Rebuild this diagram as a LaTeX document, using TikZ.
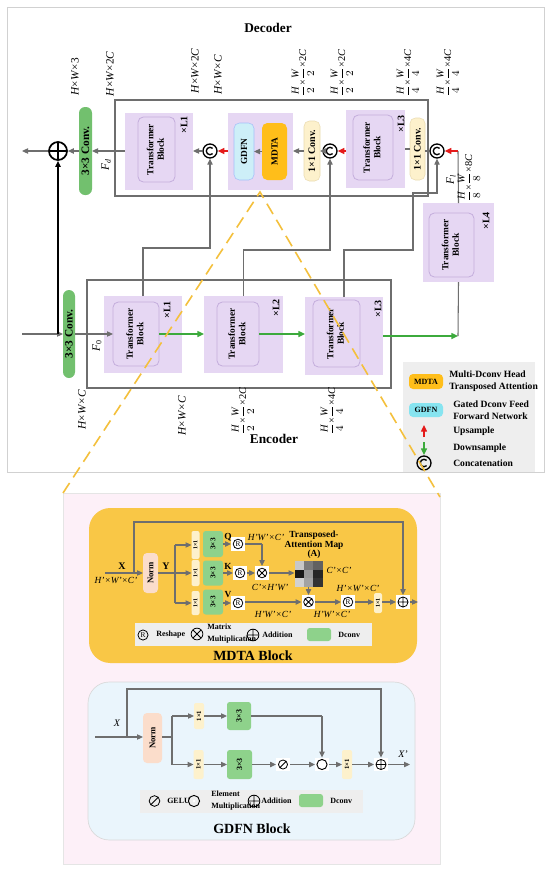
\documentclass[tikz,border=0pt]{standalone}
\usepackage{fontspec}
\setmainfont{Liberation Serif}
\usetikzlibrary{arrows.meta}
\definecolor{purp}{HTML}{E6D7F3}
\definecolor{purpd}{HTML}{C4AEDC}
\definecolor{gconv}{HTML}{72C06E}
\definecolor{cyanb}{HTML}{CDEFF8}
\definecolor{cyanl}{HTML}{86E4F0}
\definecolor{orng}{HTML}{FFBE1A}
\definecolor{cream}{HTML}{FDF1CC}
\definecolor{creamd}{HTML}{EADBB0}
\definecolor{mdtabg}{HTML}{F9C746}
\definecolor{pinkbg}{HTML}{FDF0F8}
\definecolor{gdfnbg}{HTML}{EAF5FC}
\definecolor{normc}{HTML}{FBDDCB}
\definecolor{dconv}{HTML}{8ED28B}
\definecolor{redar}{HTML}{E41A1A}
\definecolor{grnar}{HTML}{3CAA3C}
\definecolor{lnc}{HTML}{6E6E6E}
\definecolor{legbg}{HTML}{EEEEEE}
\definecolor{ylwdash}{HTML}{F4C03C}
\newcommand\fsz[1]{\fontsize{#1}{#1}\selectfont}
\newcommand\vt[1]{\rotatebox{90}{\begin{tabular}{@{}c@{}}#1\end{tabular}}}
\newcommand\rt[1]{\rotatebox{90}{#1}}
\newcommand\fr[2]{$\displaystyle\frac{\textit{#1}}{#2}$}
\begin{document}
\begin{tikzpicture}[x=0.75pt,y=-0.75pt,
 wh/.style 2 args={minimum width=#1*0.75pt,minimum height=#2*0.75pt,inner sep=0pt,outer sep=0pt},
 ln/.style={draw=lnc,line width=0.8pt},
 arr/.style={ln,-{Triangle[length=4.5pt,width=4pt]}},
 rarr/.style={draw=redar,line width=1pt,-{Triangle[length=5pt,width=4.5pt]}},
 garr/.style={draw=grnar,line width=1pt,-{Triangle[length=5pt,width=4.5pt]}},
 pblock/.style={fill=purp},
 pinner/.style={fill=purp,draw=purpd,line width=0.6pt,rounded corners=4pt,font=\bfseries\fontsize{7}{8}\selectfont},
 conv3/.style={fill=gconv,rounded corners=4.5pt,font=\bfseries\fsz{8.5}},
 conv1/.style={fill=cream,draw=creamd,line width=0.4pt,rounded corners=4pt,font=\bfseries\fsz{7.5}},
 mult/.style={font=\bfseries\fsz{7.5},inner sep=0pt},
 dimlab/.style={font=\fsz{8.5},inner sep=0pt},
 fraclab/.style={font=\fsz{7.8},inner sep=0pt},
 ttl/.style={font=\bfseries\fsz{10}},
 catc/.style={circle,draw=black,line width=1pt,minimum size=10.5pt,inner sep=0pt,
   path picture={\draw[line width=1pt] ([shift={(45:2.8pt)}]path picture bounding box.center) arc[start angle=45,end angle=315,radius=2.8pt];}},
 oplusbig/.style={circle,draw=black,line width=1.3pt,minimum size=13.5pt,inner sep=0pt,
   path picture={\draw[line width=1.3pt] (path picture bounding box.north) -- (path picture bounding box.south) (path picture bounding box.west) -- (path picture bounding box.east);}},
 sq/.style={rectangle,fill=white,minimum width=10pt,minimum height=10pt,inner sep=0pt},
 sotimes/.style={sq,path picture={\coordinate (pc) at (path picture bounding box.center);
   \draw[line width=0.6pt] (pc) circle[radius=#1] (pc) +(45:#1) -- +(225:#1) +(135:#1) -- +(-45:#1);}},
 sotimes/.default=3.6pt,
 soplus/.style={sq,path picture={\coordinate (pc) at (path picture bounding box.center);
   \draw[line width=0.6pt] (pc) circle[radius=#1] (pc) +(0:#1) -- +(180:#1) +(90:#1) -- +(270:#1);}},
 soplus/.default=3.8pt,
 sodot/.style={sq,path picture={\coordinate (pc) at (path picture bounding box.center);
   \draw[line width=0.7pt] (pc) circle[radius=#1]; \fill (pc) circle[radius=1.1pt];}},
 sodot/.default=3.8pt,
 sgelu/.style={sq,path picture={\coordinate (pc) at (path picture bounding box.center);
   \draw[line width=0.6pt] (pc) circle[radius=#1] (pc) +(45:#1) -- +(225:#1);}},
 sgelu/.default=3.4pt,
 sresh/.style={sq,font=\fsz{5.5},path picture={\coordinate (pc) at (path picture bounding box.center);
   \draw[line width=0.6pt] (pc) circle[radius=#1];}},
 sresh/.default=3.6pt,
 lsym/.style={fill=none,minimum size=11pt},
 c1/.style={fill=cream,rounded corners=1.5pt,font=\bfseries\fsz{4.5}},
 c3/.style={fill=dconv,rounded corners=2pt,font=\bfseries\fsz{5.5}},
 normb/.style={fill=normc,rounded corners=3pt,font=\bfseries\fsz{6.5}},
 ilab/.style={font=\itshape\fsz{7},inner sep=0pt},
 blab/.style={font=\bfseries\fsz{7},inner sep=0pt},
 leg/.style={font=\bfseries\fontsize{6}{9}\selectfont,inner sep=0pt,anchor=west,align=left},
 tleg/.style={font=\bfseries\fontsize{7.2}{8.6}\selectfont,inner sep=0pt,anchor=west,align=left}
]
\useasboundingbox[fill=white] (0,0) rectangle (550,872);
% ---------------- top panel
\node[draw=black!18,fill=white,line width=0.6pt,wh={537}{465}] (topframe) at (275.5,239.5) {};
\node[ttl] (dectitle) at (268,28) {Decoder};
\node[draw=lnc,line width=0.8pt,wh={313}{96}] (decframe) at (271.5,148) {};
% decoder blocks
\node[pblock,wh={68}{77}] (dL1) at (159,151) {};
\node[pinner,wh={37}{65}] (dL1in) at (156.5,149.5) {\vt{Transformer\\Block}};
\node[mult] (dL1x) at (184,125) {\rt{×L1}};
\node[catc] (cat1) at (210,151) {};
\node[pblock,wh={65}{77}] (dMG) at (260.5,151) {};
\node[fill=cyanb,draw=cyanb!80!blue,line width=0.4pt,rounded corners=4pt,wh={20}{57},font=\bfseries\fsz{7}] (gdfn) at (244,151.5) {\rt{GDFN}};
\node[fill=orng,rounded corners=4pt,wh={25}{57},font=\bfseries\fsz{7}] (mdta) at (274.5,151.5) {\rt{MDTA}};
\node[conv1,wh={16}{60}] (c1a) at (312,151) {\rt{1×1 Conv.}};
\node[catc] (cat2) at (330,151) {};
\node[pblock,wh={59}{78}] (dL3) at (375.5,149) {};
\node[pinner,wh={40}{65}] (dL3in) at (373,147.5) {\vt{Transformer\\Block}};
\node[mult] (dL3x) at (401,124) {\rt{×L3}};
\node[conv1,wh={15}{62}] (c1b) at (417.5,149) {\rt{1×1 Conv.}};
\node[catc] (cat3) at (437,151) {};
\node[pblock,wh={71}{79}] (L4) at (458.5,242.5) {};
\node[pinner,wh={45}{64}] (L4in) at (451.5,245) {\vt{Transformer\\Block}};
\node[mult] (L4x) at (486,221) {\rt{×L4}};
\node[conv3,wh={13}{88}] (dc3) at (85.5,151) {\rt{3×3 Conv.}};
\node[oplusbig] (plus1) at (58,151) {};
% decoder connectors
\coordinate (outL) at (22,151);
\draw[arr] (cat1.west) -- (cat1.west -| dL1.east);
\draw[arr] (dL1.west) -- (dL1.west -| dc3.east);
\draw[arr] (dc3.west) -- (plus1.east);
\draw[arr] (plus1.west) -- (outL);
\draw[rarr] (dMG.west) -- (cat1.east);
\draw[arr] (mdta.west) -- (mdta.west -| gdfn.east);
\draw[arr] (c1a.west) -- (c1a.west -| dMG.east);
\draw[arr] (cat2.west) -- (cat2.west -| c1a.east);
\draw[rarr] (cat2.east -| dL3.west) -- (cat2.east);
\draw[ln] (c1b.west) -- (c1b.west -| dL3.east);
\draw[ln] (cat3.west) -- (cat3.west -| c1b.east);
\coordinate (l4top) at (458,151);
\draw[ln] (L4.north) -- (l4top);
\draw[rarr] (l4top) -- (cat3.east);
% decoder labels
\node[dimlab] (lb1) at (75,77) {\rt{\textit{H}×\textit{W}×3}};
\node[dimlab] (lb2) at (110,74) {\rt{\textit{H}×\textit{W}×2\textit{C}}};
\node[dimlab] (lb3) at (195,71) {\rt{\textit{H}×\textit{W}×2\textit{C}}};
\node[dimlab] (lb4) at (218,75) {\rt{\textit{H}×\textit{W}×\textit{C}}};
\node[fraclab] (lb5) at (303,73) {\rt{\fr{H}{2}×\fr{W}{2}×2\textit{C}}};
\node[fraclab] (lb6) at (342,73) {\rt{\fr{H}{2}×\fr{W}{2}×2\textit{C}}};
\node[fraclab] (lb7) at (408,73) {\rt{\fr{H}{4}×\fr{W}{4}×4\textit{C}}};
\node[fraclab] (lb8) at (448,73) {\rt{\fr{H}{4}×\fr{W}{4}×4\textit{C}}};
\node[fraclab] (lb9) at (469,178) {\rt{\fr{H}{8}×\fr{W}{8}×8\textit{C}}};
\node[dimlab] (lFd) at (106,165) {\rt{\textit{F}\textsubscript{\textit{d}}}};
\node[dimlab] (lFl) at (451,180) {\rt{\textit{F}\textsubscript{\textit{l}}}};
% ---------------- encoder
\node[draw=lnc,line width=0.8pt,wh={304}{108}] (encframe) at (239,334) {};
\node[conv3,wh={12}{88}] (ec3) at (69,334) {\rt{3×3 Conv.}};
\node[pblock,wh={78}{77}] (eL1) at (143,334.5) {};
\node[pinner,wh={46}{64}] (eL1in) at (136,334) {\vt{Transformer\\Block}};
\node[mult] (eL1x) at (167,310) {\rt{×L1}};
\node[pblock,wh={79}{77}] (eL2) at (243.5,334.5) {};
\node[pinner,wh={42}{64}] (eL2in) at (238,334) {\vt{Transformer\\Block}};
\node[mult] (eL2x) at (276,308) {\rt{×L2}};
\node[pblock,wh={78}{78}] (eL3) at (344,336) {};
\node[pinner,wh={47}{67}] (eL3in) at (336.5,333.5) {\vt{Transformer\\Block}};
\node[mult] (eL3x) at (378,309) {\rt{×L3}};
\coordinate (inL) at (22,334);
\coordinate (inJ) at (58,334);
\coordinate (l4bot) at (458,336);
\draw[arr] (inL) -- (ec3.west);
\draw[arr,draw=black,line width=0.9pt] (inJ) -- (plus1.south);
\draw[arr] (ec3.east) -- (ec3.east -| eL1in.west);
\draw[garr] (eL1in.east) -- (eL1in.east -| eL2.west);
\draw[garr] (eL2in.east) -- (eL2in.east -| eL3.west);
\draw[garr] (eL3.east) -- (l4bot);
\draw[ln] (L4.south) -- (l4bot);
\draw[arr] (eL1.north) -- ++(0,-48) -| (cat1.south);
\draw[arr] (eL2.north) -- ++(0,-46) -| (cat2.south);
\draw[arr] (eL3.north) -- ++(0,-47) -| (413,193) -| (cat3.south);
% encoder labels
\node[dimlab] (le1) at (82,410) {\rt{\textit{H}×\textit{W}×\textit{C}}};
\node[dimlab] (le2) at (182,416) {\rt{\textit{H}×\textit{W}×\textit{C}}};
\node[fraclab] (le3) at (243,411) {\rt{\fr{H}{2}×\fr{W}{2}×2\textit{C}}};
\node[fraclab] (le4) at (332,411) {\rt{\fr{H}{4}×\fr{W}{4}×4\textit{C}}};
\node[dimlab] (lF0) at (97,346) {\rt{\textit{F}\textsubscript{0}}};
\node[ttl] (enctitle) at (274,439) {Encoder};
% legend
\node[fill=legbg,wh={132}{110}] (legbox) at (469,417) {};
\node[fill=orng,rounded corners=3pt,wh={34}{15},font=\bfseries\fsz{6}] (lgM) at (426,381.5) {MDTA};
\node[tleg] (lgMt) at (449,381) {Multi-Dconv Head\\Transposed Attention};
\node[fill=cyanl,rounded corners=3pt,wh={34}{14},font=\bfseries\fsz{6}] (lgG) at (426,410) {GDFN};
\node[tleg] (lgGt) at (453,410) {Gated Dconv Feed\\Forward Network};
\coordinate (upa) at (424,437);
\coordinate (upb) at (424,425);
\draw[rarr] (upa) -- (upb);
\node[tleg] (lgU) at (453,431) {Upsample};
\coordinate (dna) at (424,442);
\coordinate (dnb) at (424,455);
\draw[garr] (dna) -- (dnb);
\node[tleg] (lgD) at (453,448) {Downsample};
\node[catc] (lgC) at (424,463) {};
\node[tleg] (lgCt) at (453,463) {Concatenation};
% ---------------- lower panel
\node[fill=pinkbg,draw=black!10,wh={377}{371}] (pink) at (251.5,678.5) {};
% MDTA block
\node[fill=mdtabg,rounded corners=16pt,wh={328}{155}] (mdtabg) at (253,585.5) {};
\coordinate (mxin) at (105,573);
\coordinate (mxsp) at (134,573);
\node[normb,wh={15}{40}] (norm1) at (150.5,573) {\rt{Norm}};
\node[c1,wh={8}{28}] (q1) at (195.5,545) {\rt{1×1}};
\node[c1,wh={8}{26}] (k1) at (195.5,573) {\rt{1×1}};
\node[c1,wh={8}{24}] (v1) at (195.5,603) {\rt{1×1}};
\node[c3,wh={20}{26}] (q3) at (213,544) {\rt{3×3}};
\node[c3,wh={20}{25}] (k3) at (213,573) {\rt{3×3}};
\node[c3,wh={20}{25}] (v3) at (213,602) {\rt{3×3}};
\node[sresh] (rq) at (238,544) {R};
\node[sresh] (rk) at (240,573) {R};
\node[sresh] (rv) at (238,603) {R};
\node[sotimes] (mx1) at (262,573) {};
\node[wh={28}{26}] (amap) at (308.5,574) {};
\foreach \r/\c/\g in {0/0/22,0/1/52,0/2/62,1/0/90,1/1/40,1/2/85,2/0/18,2/1/36,2/2/80}
  \fill[black!\g] ({294.5+\c*9.333},{561+\r*8.667}) rectangle ++(9.333,8.667);
\node[sotimes] (mx2) at (308.5,602) {};
\node[sresh] (r3) at (348,602) {R};
\node[c1,wh={8}{20}] (o1) at (378,603) {\rt{1×1}};
\node[soplus] (plus2) at (403,602) {};
\coordinate (mxout) at (418,602);
\draw[arr] (mxin) -- (norm1.west);
\draw[arr] (mxsp) -- (134,522) -| (plus2.north);
\draw[ln] (norm1.east) -- (175,573);
\draw[ln] (175,545) -- (175,603);
\draw[arr] (175,545) -- (q1.west);
\draw[arr] (175,573) -- (k1.west);
\draw[arr] (175,603) -- (v1.west);
\draw[arr] (q3.east) -- (rq.west);
\draw[arr] (k3.east) -- (rk.west);
\draw[arr] (v3.east |- rv.west) -- (rv.west);
\draw[ln] (rq.east) -- (262,544);
\draw[arr] (262,544) -- (mx1.north);
\draw[arr] (rk.east) -- (mx1.west);
\draw[arr] (mx1.east) -- (mx1.east -| amap.west);
\draw[arr] (amap.south) -- (mx2.north);
\draw[arr] (rv.east |- mx2.west) -- (mx2.west);
\draw[arr] (mx2.east) -- (r3.west);
\draw[arr] (r3.east) -- (r3.east -| o1.west);
\draw[arr] (o1.east |- plus2.west) -- (plus2.west);
\draw[arr] (plus2.east) -- (mxout);
\node[font=\bfseries\fsz{7.5}] (tX) at (122,566) {X};
\node[ilab] (tHWC) at (116,580) {\textit{H}'×\textit{W}'×\textit{C}'};
\node[font=\bfseries\fsz{7.5}] (tY) at (166,566) {Y};
\node[blab] (tQ) at (228,537) {Q};
\node[blab] (tK) at (228,566) {K};
\node[blab] (tV) at (228,595) {V};
\node[ilab] (tq) at (266,537) {\textit{H}'\textit{W}'×\textit{C}'};
\node[ilab] (tk) at (270,587) {\textit{C}'×\textit{H}'\textit{W}'};
\node[blab,align=center] (tA) at (314,545) {Transposed-\\Attention Map\\(A)};
\node[ilab] (tcc) at (339,570) {\textit{C}'×\textit{C}'};
\node[ilab] (thwc) at (358,588) {\textit{H}'×\textit{W}'×\textit{C}'};
\node[ilab] (tv1) at (273,614) {\textit{H}'\textit{W}'×\textit{C}'};
\node[ilab] (tv2) at (332,614) {\textit{H}'\textit{W}'×\textit{C}'};
\node[fill=legbg,wh={237}{23}] (mleg) at (253.5,634.5) {};
\node[sresh=3.8pt,lsym] (mlR) at (143,635) {R};
\node[leg] (mlRt) at (156,635) {Reshape};
\node[sotimes=4.4pt,lsym] (mlX) at (197,634) {};
\node[leg] (mlXt) at (207,634) {Matrix\\Multiplication};
\node[soplus=4.4pt,lsym] (mlP) at (253,635) {};
\node[leg] (mlPt) at (262,635) {Addition};
\node[fill=dconv,rounded corners=2pt,wh={24}{13}] (mlG) at (319,634.5) {};
\node[leg] (mlGt) at (338,635) {Dconv};
\node[font=\bfseries\fsz{10.5}] (mdtatitle) at (253,656) {MDTA Block};
% GDFN block
\node[fill=gdfnbg,draw=black!15,line width=0.5pt,rounded corners=16pt,wh={327}{158}] (gdfnbg) at (251.5,761) {};
\coordinate (gxin) at (95,737);
\coordinate (gxsp) at (127,737);
\node[normb,wh={19}{50}] (norm2) at (152.5,738) {\rt{Norm}};
\node[c1,wh={10}{26},font=\bfseries\fsz{5}] (g1a) at (199,716) {\rt{1×1}};
\node[c3,wh={24}{28},font=\bfseries\fsz{6}] (g3a) at (239,716) {\rt{3×3}};
\node[c1,wh={10}{29},font=\bfseries\fsz{5}] (g1b) at (198.5,764.5) {\rt{1×1}};
\node[c3,wh={25}{29},font=\bfseries\fsz{6}] (g3b) at (239.5,764.5) {\rt{3×3}};
\node[sgelu] (gelu) at (283,764.5) {};
\node[sodot] (odot) at (322,764.5) {};
\node[c1,wh={10}{29},font=\bfseries\fsz{5}] (g1c) at (347,764.5) {\rt{1×1}};
\node[soplus] (plus3) at (381,764.5) {};
\coordinate (gout) at (410,764.5);
\draw[arr] (gxin) -- (gxin -| norm2.west);
\draw[arr] (gxsp) -- (127,689) -| (plus3.north);
\draw[ln] (norm2.east |- gxin) -- (172,737);
\draw[ln] (172,716) -- (172,764.5);
\draw[arr] (172,716) -- (g1a.west);
\draw[arr] (172,764.5) -- (g1b.west);
\draw[arr] (g1a.east) -- (g3a.west);
\draw[arr] (g1b.east) -- (g3b.west);
\draw[ln] (g3a.east) -- (322,716);
\draw[arr] (322,716) -- (odot.north);
\draw[arr] (g3b.east) -- (gelu.west);
\draw[arr] (gelu.east) -- (odot.west);
\draw[arr] (odot.east) -- (g1c.west);
\draw[arr] (g1c.east) -- (plus3.west);
\draw[arr] (plus3.east) -- (gout);
\node[font=\itshape\fsz{7.5}] (gX) at (117,723) {X};
\node[font=\itshape\fsz{7.5}] (gX2) at (403,754) {X'};
\node[fill=legbg,wh={223}{23}] (gleg) at (251.5,801.5) {};
\node[sgelu=4pt,lsym] (glE) at (154.5,801) {};
\node[leg] (glEt) at (167,801) {GELU};
\node[sodot=4.2pt,lsym] (glO) at (194,801) {};
\node[leg] (glOt) at (211,801) {Element\\Multiplication};
\node[soplus=4.4pt,lsym] (glP) at (254,801) {};
\node[leg] (glPt) at (261,801) {Addition};
\node[fill=dconv,rounded corners=2pt,wh={24}{13}] (glG) at (311,800.5) {};
\node[leg] (glGt) at (330,801) {Dconv};
\node[font=\bfseries\fsz{10.5}] (gdfntitle) at (252,829) {GDFN Block};
% dashed zoom lines
\coordinate (apex) at (260,192);
\coordinate (pl) at (63,493);
\coordinate (pr) at (440,497);
\draw[draw=ylwdash,line width=1.2pt,dash pattern=on 9pt off 5pt] (pl) -- (apex) -- (pr);
\end{tikzpicture}
\end{document}
